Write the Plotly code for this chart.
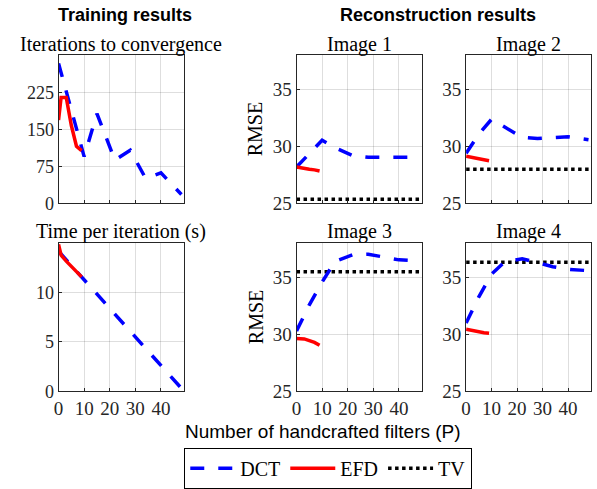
import plotly.graph_objects as go

# ---------------- data ----------------
P_DCT = [0, 5, 10, 15, 22, 28, 34, 40, 48]
P_EFD = [0, 1, 3, 5, 7, 9]
P_TV = [0, 49]

iters_DCT = [284, 190, 95, 182, 88, 108, 51, 62, 18]
iters_EFD = [169, 215, 215, 158, 116, 107]

time_DCT = [14.2, 12.75, 11.3, 9.85, 7.8, 6.1, 4.35, 2.6, 0.3]
time_EFD = [14.9, 13.8, 13.2, 12.7, 12.1, 11.6]

rmse_DCT_img1 = [28.2, 29.4, 30.55, 29.9, 29.2, 29.05, 29.05, 29.1, 29.05]
rmse_DCT_img2 = [29.4, 31.1, 32.4, 31.7, 30.8, 30.7, 30.75, 30.85, 30.6]
rmse_DCT_img3 = [30.3, 32.6, 34.6, 36.4, 37.0, 37.05, 36.8, 36.55, 36.45]
rmse_DCT_img4 = [31.0, 33.3, 35.3, 36.35, 36.65, 36.3, 35.95, 35.72, 35.6]

rmse_EFD_img1 = [28.2, 28.15, 28.1, 28.0, 27.95, 27.85]
rmse_EFD_img2 = [29.15, 29.1, 29.0, 28.95, 28.85, 28.75]
rmse_EFD_img3 = [29.65, 29.65, 29.6, 29.45, 29.3, 29.05]
rmse_EFD_img4 = [30.45, 30.4, 30.35, 30.25, 30.15, 30.1]

rmse_TV = [25.37, 28.0, 35.5, 36.33]

image_titles = ["Image 1", "Image 2", "Image 3", "Image 4"]
x_ticks = [0, 10, 20, 30, 40]
iter_ticks = [0, 75, 150, 225]
time_ticks = [0, 5, 10]
rmse_ticks = [25, 30, 35]

# ---------------- style ----------------
W, H = 597, 489
SERIF = "Liberation Serif, Times New Roman, serif"
SANS = "Liberation Sans, Arial, sans-serif"
BLUE, RED, BLACK = "#0000ff", "#ff0000", "#000000"
LW = 3.5
DCT_LINE = dict(color=BLUE, width=LW, dash="14px,14px")
EFD_LINE = dict(color=RED, width=LW)
TV_LINE = dict(color=BLACK, width=LW, dash="3.5px,3.5px")


def fx(p):
    return p / W


def fy(p):
    return 1 - p / H


def px_x(a, b):
    return [fx(a), fx(b)]


def px_y(top, bottom):
    return [fy(bottom), fy(top)]


fig = go.Figure()

panels = [
    ("", px_x(54, 180.5), px_y(57, 209), [0, 300], iter_ticks, False, 18),
    ("2", px_x(54, 180.5), px_y(250, 402), [0, 15], time_ticks, True, 18),
    ("3", px_x(294, 420.5), px_y(57, 209), [25, 38], rmse_ticks, False, 19),
    ("4", px_x(465, 591), px_y(57, 209), [25, 38], rmse_ticks, False, 19),
    ("5", px_x(294, 420.5), px_y(250, 402), [25, 38], rmse_ticks, True, 19),
    ("6", px_x(465, 591), px_y(250, 402), [25, 38], rmse_ticks, True, 19),
]

axis_common = dict(
    showline=True, linecolor="#262626", linewidth=1, mirror=True,
    ticks="inside", ticklen=3, tickcolor="#262626",
    showgrid=True, gridcolor="rgba(0,0,0,0.13)", gridwidth=1,
    zeroline=False,
)

for suf, xd, yd, yr, yt, showx, fs in panels:
    fig.layout["xaxis" + suf] = dict(
        domain=xd, range=[0, 49], tickvals=x_ticks, showticklabels=showx,
        anchor="y" + suf, tickfont=dict(family=SERIF, size=19, color="#262626"),
        **axis_common)
    fig.layout["yaxis" + suf] = dict(
        domain=yd, range=yr, tickvals=yt, anchor="x" + suf,
        tickfont=dict(family=SERIF, size=fs, color="#262626"),
        **axis_common)

# training panels
fig.add_trace(go.Scatter(x=P_DCT, y=iters_DCT, mode="lines", line=DCT_LINE,
                         name="DCT", legendgroup="DCT", showlegend=True,
                         xaxis="x", yaxis="y"))
fig.add_trace(go.Scatter(x=P_EFD, y=iters_EFD, mode="lines", line=EFD_LINE,
                         name="EFD", legendgroup="EFD", showlegend=True,
                         xaxis="x", yaxis="y"))
fig.add_trace(go.Scatter(x=P_DCT, y=time_DCT, mode="lines", line=DCT_LINE,
                         name="DCT", legendgroup="DCT", showlegend=False,
                         xaxis="x2", yaxis="y2"))
fig.add_trace(go.Scatter(x=P_EFD, y=time_EFD, mode="lines", line=EFD_LINE,
                         name="EFD", legendgroup="EFD", showlegend=False,
                         xaxis="x2", yaxis="y2"))

rmse_DCT = [rmse_DCT_img1, rmse_DCT_img2, rmse_DCT_img3, rmse_DCT_img4]
rmse_EFD = [rmse_EFD_img1, rmse_EFD_img2, rmse_EFD_img3, rmse_EFD_img4]
suffixes = ["3", "4", "5", "6"]
for i, suf in enumerate(suffixes):
    fig.add_trace(go.Scatter(x=P_TV, y=[rmse_TV[i]] * len(P_TV), mode="lines",
                             line=TV_LINE, name="TV", legendgroup="TV",
                             showlegend=(i == 0), xaxis="x" + suf, yaxis="y" + suf))
    fig.add_trace(go.Scatter(x=P_DCT, y=rmse_DCT[i], mode="lines", line=DCT_LINE,
                             name="DCT", legendgroup="DCT", showlegend=False,
                             xaxis="x" + suf, yaxis="y" + suf))
    fig.add_trace(go.Scatter(x=P_EFD, y=rmse_EFD[i], mode="lines", line=EFD_LINE,
                             name="EFD", legendgroup="EFD", showlegend=False,
                             xaxis="x" + suf, yaxis="y" + suf))

# ---------------- texts ----------------
ann = []


def add_text(text, x, y, size, family, bold=False, angle=0):
    ann.append(dict(text=("<b>%s</b>" % text) if bold else text,
                    x=fx(x), y=fy(y), xref="paper", yref="paper",
                    xanchor="center", yanchor="middle", showarrow=False,
                    textangle=angle,
                    font=dict(family=family, size=size, color="#000000")))


add_text("Training results", 121, 15, 18, SANS, bold=True)
add_text("Reconstruction results", 437, 15, 18, SANS, bold=True)
add_text("Iterations to convergence", 117, 46, 20, SERIF)
add_text("Time per iteration (s)", 117, 238, 20, SERIF)
centers = [357, 528, 357, 528]
ys = [46, 46, 238, 238]
for t, cx, cy in zip(image_titles, centers, ys):
    add_text(t, cx, cy, 20, SERIF)
add_text("RMSE", 253, 133, 20, SERIF, angle=-90)
add_text("RMSE", 253, 326, 20, SERIF, angle=-90)
add_text("Number of handcrafted filters (P)", 321, 443, 19, SANS)

fig.update_layout(
    width=W, height=H,
    margin=dict(l=0, r=0, t=0, b=0),
    paper_bgcolor="white", plot_bgcolor="white",
    annotations=ann,
    legend=dict(orientation="h", x=fx(326), xanchor="center",
                y=fy(460), yanchor="top",
                bordercolor="#000000", borderwidth=1, bgcolor="white",
                font=dict(family=SERIF, size=20, color="#000000"),
                itemwidth=45, tracegroupgap=0, traceorder="normal"),
    showlegend=True,
)

fig.write_html("out.html",
               config={"displayModeBar": False},
               post_script="document.body.style.margin='0';document.body.style.padding='0';")
